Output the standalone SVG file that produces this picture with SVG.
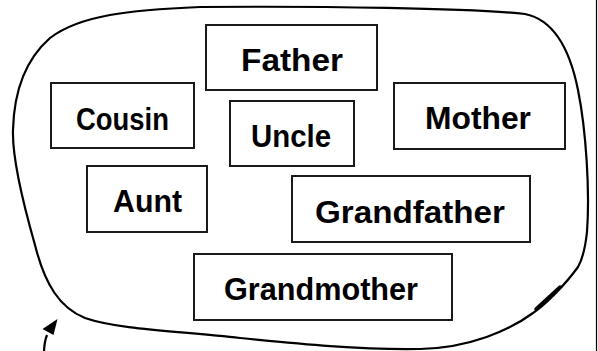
<svg xmlns="http://www.w3.org/2000/svg" width="598" height="351" viewBox="0 0 598 351">
  <style>
    .box { fill: #ffffff; stroke: #1a1a1a; stroke-width: 2; }
    .lbl { font-family: "Liberation Sans", Arial, sans-serif; font-weight: bold; font-size: 31px; fill: #000000; text-anchor: middle; }
    .blob { fill: none; stroke: #000000; stroke-width: 2.2; stroke-linejoin: round; }
  </style>
  <rect width="598" height="351" fill="#ffffff"/>
  <line x1="596.5" y1="0" x2="596.5" y2="351" stroke="#000000" stroke-width="1.2"/>
  <g id="boundary">
    <path class="blob" d="M 200 7 C 320 6, 470 8, 525 14 C 555 20, 570 50, 578 90 C 586 130, 590 190, 587 232 C 585 250, 582 260, 578 267 C 565 285, 545 305, 533 313 C 510 330, 470 348, 420 349 C 360 350, 300 344, 240 338 C 180 331, 120 330, 85 318 C 60 308, 45 285, 35 245 C 25 210, 12 160, 13 130 C 14 90, 25 60, 50 38 C 80 15, 130 10, 200 7 Z"/>
    <path d="M 560 287 L 536 309" stroke="#000" stroke-width="3.5" fill="none" stroke-linecap="round"/>
  </g>
  <g id="node-father">
    <rect class="box" x="206" y="25" width="171" height="65"/>
    <text class="lbl" x="292" y="71" textLength="102" lengthAdjust="spacingAndGlyphs">Father</text>
  </g>
  <g id="node-cousin">
    <rect class="box" x="51" y="83" width="143" height="65"/>
    <text class="lbl" x="122.5" y="130" textLength="93" lengthAdjust="spacingAndGlyphs">Cousin</text>
  </g>
  <g id="node-uncle">
    <rect class="box" x="230" y="101" width="124" height="65"/>
    <text class="lbl" x="291" y="147" textLength="80" lengthAdjust="spacingAndGlyphs">Uncle</text>
  </g>
  <g id="node-mother">
    <rect class="box" x="394" y="83" width="171" height="66"/>
    <text class="lbl" x="478" y="129" textLength="106" lengthAdjust="spacingAndGlyphs">Mother</text>
  </g>
  <g id="node-aunt">
    <rect class="box" x="87" y="166" width="120" height="66"/>
    <text class="lbl" x="147.5" y="212" textLength="69" lengthAdjust="spacingAndGlyphs">Aunt</text>
  </g>
  <g id="node-grandfather">
    <rect class="box" x="292" y="176" width="238" height="66"/>
    <text class="lbl" x="410" y="223" textLength="190" lengthAdjust="spacingAndGlyphs">Grandfather</text>
  </g>
  <g id="node-grandmother">
    <rect class="box" x="194" y="254" width="258" height="66"/>
    <text class="lbl" x="321" y="300" textLength="194" lengthAdjust="spacingAndGlyphs">Grandmother</text>
  </g>
  <g id="connectors">
    <path d="M 44 351 Q 44.5 341 47 335" fill="none" stroke="#000" stroke-width="2.2"/>
    <polygon points="57.5,319 42.5,329 53.5,335" fill="#000"/>
  </g>
</svg>
